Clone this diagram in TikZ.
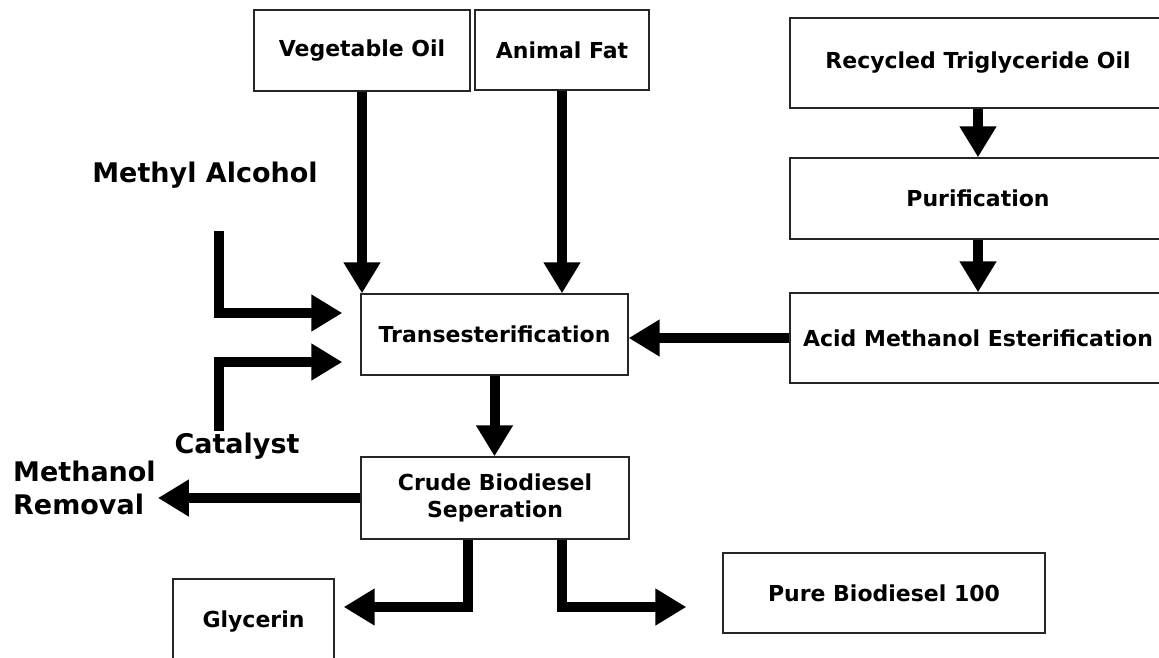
\documentclass[tikz,border=0pt]{standalone}
\usepackage{fontspec}
\setmainfont{DejaVu Sans}
\usetikzlibrary{arrows.meta, positioning}

\begin{document}
\begin{tikzpicture}[x=1pt, y=-1pt,
    every node/.style={font=\bfseries\fontsize{22}{27}\selectfont},
    unit/.style={rectangle, draw=black!85, line width=1.4pt, align=center, inner sep=0pt},
    flow/.style={-{Triangle[length=31pt, width=35pt]}, line width=10pt},
    feed/.style={font=\bfseries\fontsize{27}{33}\selectfont, align=left, inner sep=2pt}
]
\path[use as bounding box, clip] (0,0) rectangle (1159,657);

% Raw materials
\node[unit, minimum width=216pt, minimum height=81pt] (veg)   at (362,50.5)  {Vegetable Oil};
\node[unit, minimum width=174pt, minimum height=80pt] (fat)   at (562,50)    {Animal Fat};
\node[unit, minimum width=376pt, minimum height=90pt] (recyc) at (978,63)    {Recycled Triglyceride Oil};
\node[unit, minimum width=376pt, minimum height=81pt] (purif) at (978,198.5) {Purification};
\node[unit, minimum width=376pt, minimum height=90pt] (acid)  at (978,338)   {Acid Methanol Esterification};

% Process steps
\node[unit, minimum width=267pt, minimum height=81pt] (trans) at (494.5,334.5) {Transesterification};
\node[unit, minimum width=268pt, minimum height=82pt] (crude) at (495,498)     {Crude Biodiesel\\Seperation};
\node[unit, minimum width=161pt, minimum height=86pt] (glyc)  at (253.5,622)   {Glycerin};
\node[unit, minimum width=322pt, minimum height=80pt] (pure)  at (884,593)     {Pure Biodiesel 100};

% Side inputs and outputs
\node[feed] (methyl) at (205,175) {Methyl Alcohol};
\node[feed] (cat)    at (237,446) {Catalyst};
\node[feed, anchor=west] (rem) at (11,488) {Methanol\\Removal};
\coordinate (methylin) at (219,231);
\coordinate (catin)    at (219,431);

% Feed flows
\draw[flow] (veg.south) -- (veg.south |- trans.north);
\draw[flow] (fat.south) -- (fat.south |- trans.north);
\draw[flow] (recyc.south) -- (purif.north);
\draw[flow] (purif.south) -- (acid.north);
\draw[flow] (acid.west) -- (acid.west -| trans.east);
\draw[flow, line join=miter] (methylin) |- ([xshift=-18pt, yshift=21.5pt]trans.west);
\draw[flow, line join=miter] (catin) |- ([xshift=-18pt, yshift=-27.5pt]trans.west);

% Product flows
\draw[flow] (trans.south) -- (trans.south |- crude.north);
\draw[flow] (crude.west) -- (crude.west -| rem.east);
\draw[flow, line join=miter] ([xshift=-27pt]crude.south) |- ([xshift=9pt, yshift=15pt]glyc.east);
\draw[flow, line join=miter] ([xshift=67pt]crude.south) |- ([xshift=-36pt, yshift=-14pt]pure.west);
\end{tikzpicture}
\end{document}
